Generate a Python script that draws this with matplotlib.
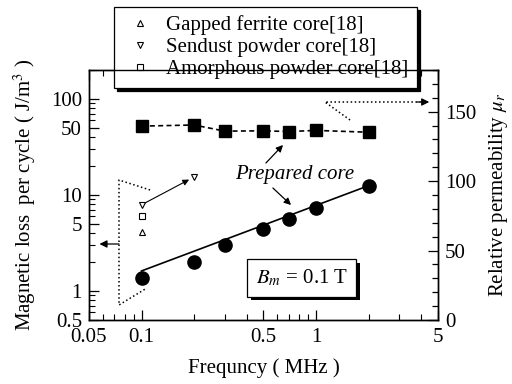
import numpy as np
import matplotlib

matplotlib.use("Agg")
import matplotlib.pyplot as plt
from matplotlib.ticker import FixedLocator, NullFormatter, FixedFormatter, MultipleLocator
import matplotlib.patheffects as pe

plt.rcParams["font.family"] = ["Liberation Serif", "DejaVu Serif"]
plt.rcParams["mathtext.fontset"] = "stix"

# prepared core: magnetic loss per cycle (J/m^3)
freq = [0.1, 0.2, 0.3, 0.5, 0.7, 1.0, 2.0]
loss = [1.37, 2.0, 3.0, 4.4, 5.6, 7.3, 12.3]
fit_freq = [0.1, 2.0]
fit_loss = [1.62, 12.5]

# prepared core: relative permeability
perm = [139.6, 140.4, 136.0, 136.2, 135.7, 136.5, 135.2]

# reference cores [18] at 0.1 MHz
ref_freq = 0.1
gapped_ferrite = 4.1
sendust = 7.9
amorphous = 6.05
sendust_2 = (0.2, 15.4)

x_ticks = [0.05, 0.1, 0.5, 1, 5]
x_ticklabels = ["0.05", "0.1", "0.5", "1", "5"]
y_ticks = [0.5, 1, 5, 10, 50, 100]
y_ticklabels = ["0.5", "1", "5", "10", "50", "100"]

FS = 15

fig = plt.figure(figsize=(5.12, 3.84), dpi=100)
ax = fig.add_axes([0.1738, 0.1667, 0.6816, 0.651])
ax2 = ax.twinx()

ax.set_xscale("log")
ax.set_yscale("log")
ax.set_xlim(0.05, 5)
ax.set_ylim(0.5, 200)
ax2.set_ylim(0, 180)

# loss data
ax.plot(fit_freq, fit_loss, color="black", lw=1.2, zorder=3)
ax.plot(freq, loss, "o", color="black", ms=9.5, zorder=4)
ax.plot(ref_freq, gapped_ferrite, "^", mfc="white", mec="black", ms=5, mew=0.8,
        label="Gapped ferrite core[18]")
ax.plot(ref_freq, sendust, "v", mfc="white", mec="black", ms=5, mew=0.8,
        label="Sendust powder core[18]")
ax.plot(ref_freq, amorphous, "s", mfc="white", mec="black", ms=4.5, mew=0.8,
        label="Amorphous powder core[18]")
ax.plot(sendust_2[0], sendust_2[1], "v", mfc="white", mec="black", ms=5, mew=0.8)
ax.annotate("", xy=sendust_2, xytext=(ref_freq, sendust),
            arrowprops=dict(arrowstyle="-|>", color="black", lw=0.8,
                            mutation_scale=9, shrinkA=3, shrinkB=4))

# permeability data
ax2.plot(freq, perm, "s--", color="black", ms=8.5, lw=1.2, dashes=(3, 2))

# axis formatting
tick_kw = dict(direction="in", labelsize=FS)
ax.xaxis.set_major_locator(FixedLocator(x_ticks))
ax.xaxis.set_major_formatter(FixedFormatter(x_ticklabels))
ax.xaxis.set_minor_formatter(NullFormatter())
ax.yaxis.set_major_locator(FixedLocator(y_ticks))
ax.yaxis.set_major_formatter(FixedFormatter(y_ticklabels))
ax.yaxis.set_minor_formatter(NullFormatter())
ax.tick_params(axis="x", which="both", top=True, pad=6, **tick_kw)
ax.tick_params(axis="y", which="both", pad=5, **tick_kw)
ax.tick_params(which="major", length=7, width=0.9)
ax.tick_params(which="minor", length=4, width=0.8)
ax2.yaxis.set_major_locator(MultipleLocator(50))
ax2.yaxis.set_minor_locator(MultipleLocator(10))
ax2.tick_params(which="both", direction="in", labelsize=FS, width=0.9, pad=5)
ax2.tick_params(which="major", length=7)
ax2.tick_params(which="minor", length=4)
for a in (ax, ax2):
    for s in a.spines.values():
        s.set_linewidth(1.0)

ax.set_xlabel("Frequncy ( MHz )", fontsize=FS, labelpad=8)
ax.set_ylabel("Magnetic loss  per cycle ( J/m$^3$ )", fontsize=FS, labelpad=9)
ax2.set_ylabel(r"Relative permeability $\mu_r$", fontsize=FS, labelpad=8)

# dotted brackets and arrows
tr = ax.transAxes
ax.plot([0.175, 0.086, 0.086, 0.166], [0.52, 0.56, 0.06, 0.128],
        ls=":", color="black", lw=1.1, transform=tr, clip_on=False)
ax.annotate("", xy=(0.03, 0.304), xytext=(0.086, 0.304), xycoords=tr,
            arrowprops=dict(arrowstyle="-|>", color="black", lw=0.9,
                            mutation_scale=11, shrinkA=0, shrinkB=0))
ax.plot([0.748, 0.676, 0.95], [0.80, 0.872, 0.872],
        ls=":", color="black", lw=1.1, transform=tr, clip_on=False)
ax.annotate("", xy=(0.975, 0.872), xytext=(0.94, 0.872), xycoords=tr,
            arrowprops=dict(arrowstyle="-|>", color="black", lw=0.9,
                            mutation_scale=11, shrinkA=0, shrinkB=0))

# prepared core label
ax.text(0.59, 0.58, "Prepared core", transform=tr, fontsize=FS,
        style="italic", ha="center", va="center")
ax.annotate("", xy=(0.556, 0.70), xytext=(0.507, 0.628), xycoords=tr,
            arrowprops=dict(arrowstyle="-|>", color="black", lw=0.9,
                            mutation_scale=10, shrinkA=0, shrinkB=0))
ax.annotate("", xy=(0.579, 0.46), xytext=(0.527, 0.528), xycoords=tr,
            arrowprops=dict(arrowstyle="-|>", color="black", lw=0.9,
                            mutation_scale=10, shrinkA=0, shrinkB=0))

# Bm box
t = ax.text(0.61, 0.168, "$B_m$ = 0.1 T", transform=tr, fontsize=FS,
            ha="center", va="center",
            bbox=dict(boxstyle="square,pad=0.4", fc="white", ec="black", lw=0.9))
t.get_bbox_patch().set_path_effects(
    [pe.SimplePatchShadow(offset=(2.5, -2.5), shadow_rgbFace="black", alpha=1),
     pe.Normal()])

# legend
leg = ax.legend(loc="upper left", bbox_to_anchor=(0.072, 1.252), fontsize=FS,
                frameon=True, fancybox=False, shadow={"color": "black", "alpha": 1},
                edgecolor="black", framealpha=1, handlelength=1.7,
                handletextpad=0.4, labelspacing=0.12, borderpad=0.4,
                borderaxespad=0)
leg.get_frame().set_linewidth(0.9)
leg.set_zorder(10)

fig.savefig("out.png", dpi=100)
